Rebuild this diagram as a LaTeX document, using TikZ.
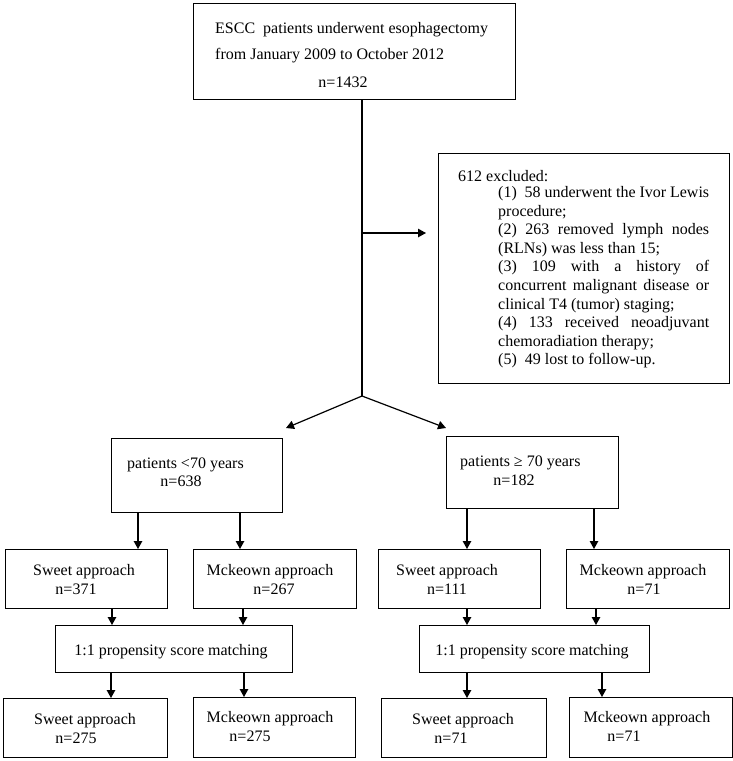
\documentclass[tikz,border=0pt]{standalone}
\usepackage{fontspec}
\setmainfont{Liberation Serif}
\usetikzlibrary{arrows.meta}
\newcommand\mybox[5]{\node[box, anchor=north west, minimum width={#4-#2}, minimum height={#5-#3}] (#1) at (#2,#3) {};}
\newcommand\jl[1]{\hbox to 211pt{#1}}
\begin{document}
\begin{tikzpicture}[x=1pt,y=-1pt,
  box/.style={draw, line width=1.2pt, inner sep=0pt},
  txt/.style={inner sep=0pt, font=\fontsize{16}{19}\selectfont},
  ln/.style={line width=1.2pt},
  arr/.style={line width=1.2pt, -{Triangle[length=8pt,width=8.5pt]}}]
\useasboundingbox (0,0) rectangle (733,761);
% boxes
\mybox{top}{193}{3}{515}{99}
\mybox{excl}{438}{153}{729}{383}
\mybox{young}{111}{438}{282}{512}
\mybox{old}{446}{436}{618}{508}
\mybox{swA}{5}{549}{167}{608}
\mybox{mkA}{193}{549}{356}{608}
\mybox{swB}{378}{549}{540}{608}
\mybox{mkB}{566}{549}{729}{608}
\mybox{psmA}{55}{625}{292}{672}
\mybox{psmB}{419}{625}{649}{672}
\mybox{swC}{3}{698}{167}{757}
\mybox{mkC}{193}{697}{355}{757}
\mybox{swD}{381}{698}{546}{757}
\mybox{mkD}{569}{697}{732}{757}
% texts
\node[txt, anchor=base west] (t1) at (215,33) {ESCC\ \ patients underwent esophagectomy};
\node[txt, anchor=base west] (t2) at (215,59) {from January 2009 to October 2012};
\node[txt, anchor=base] (t3) at (343,87) {n=1432};
\node[txt, anchor=base west] (e0) at (458,181) {612 excluded:};
\node[txt, anchor=base west] (e1) at (498,197.5) {\jl{(1)\ \ 58 underwent the Ivor Lewis}};
\node[txt, anchor=base west] (e2) at (498,216.1) {procedure;};
\node[txt, anchor=base west] (e3) at (498,234.7) {\jl{(2) 263 removed lymph nodes}};
\node[txt, anchor=base west] (e4) at (498,253.3) {(RLNs) was less than 15;};
\node[txt, anchor=base west] (e5) at (498,271.9) {\jl{(3) 109 with a history of}};
\node[txt, anchor=base west] (e6) at (498,290.5) {\jl{concurrent malignant disease or}};
\node[txt, anchor=base west] (e7) at (498,309.1) {clinical T4 (tumor) staging;};
\node[txt, anchor=base west] (e8) at (498,327.7) {\jl{(4) 133 received neoadjuvant}};
\node[txt, anchor=base west] (e9) at (498,346.3) {chemoradiation therapy;};
\node[txt, anchor=base west] (e10) at (498,364.9) {(5)\ \ 49 lost to follow-up.};
\node[txt, anchor=base west] (y1) at (127,468) {patients <70 years};
\node[txt, anchor=base] (y2) at (181,486) {n=638};
\node[txt, anchor=base west] (o1) at (460,466) {patients ≥ 70 years};
\node[txt, anchor=base] (o2) at (514,485) {n=182};
\node[txt, anchor=base] (a1) at (84,575) {Sweet approach};
\node[txt, anchor=base] (a2) at (76,594) {n=371};
\node[txt, anchor=base] (b1) at (270,575) {Mckeown approach};
\node[txt, anchor=base] (b2) at (274,594) {n=267};
\node[txt, anchor=base] (c1) at (447,575) {Sweet approach};
\node[txt, anchor=base] (c2) at (447,594) {n=111};
\node[txt, anchor=base] (d1) at (643,575) {Mckeown approach};
\node[txt, anchor=base] (d2) at (644,594) {n=71};
\node[txt, anchor=base] (p1) at (171,655) {1:1 propensity score matching};
\node[txt, anchor=base] (p2) at (532,655) {1:1 propensity score matching};
\node[txt, anchor=base] (f1) at (85,724) {Sweet approach};
\node[txt, anchor=base] (f2) at (76,743) {n=275};
\node[txt, anchor=base] (g1) at (270,722) {Mckeown approach};
\node[txt, anchor=base] (g2) at (250,741) {n=275};
\node[txt, anchor=base] (h1) at (463,724) {Sweet approach};
\node[txt, anchor=base] (h2) at (451,743) {n=71};
\node[txt, anchor=base] (k1) at (647,722) {Mckeown approach};
\node[txt, anchor=base] (k2) at (624,741) {n=71};
% connectors
\coordinate (br) at (362,396);
\coordinate (ex) at (362,233);
\coordinate (tl) at (286,428);
\coordinate (tr) at (446,428);
\draw[ln] (362,0 |- top.south) -- (br);
\draw[arr, shorten >=12pt] (ex) -- (ex -| excl.west);
\draw[arr] (br) -- (tl);
\draw[arr] (br) -- (tr);
\draw[arr] (138,0 |- young.south) -- (138,0 |- swA.north);
\draw[arr] (240,0 |- young.south) -- (240,0 |- mkA.north);
\draw[arr] (467,0 |- old.south) -- (467,0 |- swB.north);
\draw[arr] (594,0 |- old.south) -- (594,0 |- mkB.north);
\draw[arr] (112,0 |- swA.south) -- (112,0 |- psmA.north);
\draw[arr] (243,0 |- mkA.south) -- (243,0 |- psmA.north);
\draw[arr] (467,0 |- swB.south) -- (467,0 |- psmB.north);
\draw[arr] (596,0 |- mkB.south) -- (596,0 |- psmB.north);
\draw[arr] (111,0 |- psmA.south) -- (111,0 |- swC.north);
\draw[arr] (244,0 |- psmA.south) -- (244,0 |- mkC.north);
\draw[arr] (467,0 |- psmB.south) -- (467,0 |- swD.north);
\draw[arr] (602,0 |- psmB.south) -- (602,0 |- mkD.north);
\end{tikzpicture}
\end{document}
